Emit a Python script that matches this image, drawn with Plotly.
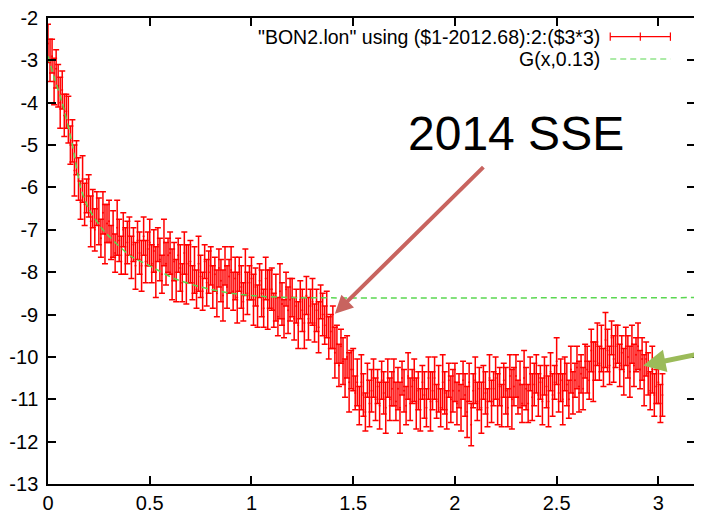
"""
Plotly recreation of the gnuplot BON2 longitude time series with the 2014 SSE marker.
"""

import plotly.graph_objects as go


"""
Data
"""

# --- Time since 2012.68 (years) ---
years = [
    0.00, 0.01, 0.02, 0.03, 0.04, 0.05, 0.06, 0.07, 0.08, 0.09,
    0.10, 0.11, 0.12, 0.13, 0.14, 0.15, 0.16, 0.17, 0.18, 0.19,
    0.20, 0.21, 0.22, 0.23, 0.24, 0.25, 0.26, 0.27, 0.28, 0.29,
    0.30, 0.31, 0.32, 0.33, 0.34, 0.35, 0.36, 0.37, 0.38, 0.39,
    0.40, 0.41, 0.42, 0.43, 0.44, 0.45, 0.46, 0.47, 0.48, 0.49,
    0.50, 0.51, 0.52, 0.53, 0.54, 0.55, 0.56, 0.57, 0.58, 0.59,
    0.60, 0.61, 0.62, 0.63, 0.64, 0.65, 0.66, 0.67, 0.68, 0.69,
    0.70, 0.71, 0.72, 0.73, 0.74, 0.75, 0.76, 0.77, 0.78, 0.79,
    0.80, 0.81, 0.82, 0.83, 0.84, 0.85, 0.86, 0.87, 0.88, 0.89,
    0.90, 0.91, 0.92, 0.93, 0.94, 0.95, 0.96, 0.97, 0.98, 0.99,
    1.00, 1.01, 1.02, 1.03, 1.04, 1.05, 1.06, 1.07, 1.08, 1.09,
    1.10, 1.11, 1.12, 1.13, 1.14, 1.15, 1.16, 1.17, 1.18, 1.19,
    1.20, 1.21, 1.22, 1.23, 1.24, 1.25, 1.26, 1.27, 1.28, 1.29,
    1.30, 1.31, 1.32, 1.33, 1.34, 1.35, 1.36, 1.37, 1.38, 1.39,
    1.40, 1.41, 1.42, 1.43, 1.44, 1.45, 1.46, 1.47, 1.48, 1.49,
    1.50, 1.51, 1.52, 1.53, 1.54, 1.55, 1.56, 1.57, 1.58, 1.59,
    1.60, 1.61, 1.62, 1.63, 1.64, 1.65, 1.66, 1.67, 1.68, 1.69,
    1.70, 1.71, 1.72, 1.73, 1.74, 1.75, 1.76, 1.77, 1.78, 1.79,
    1.80, 1.81, 1.82, 1.83, 1.84, 1.85, 1.86, 1.87, 1.88, 1.89,
    1.90, 1.91, 1.92, 1.93, 1.94, 1.95, 1.96, 1.97, 1.98, 1.99,
    2.00, 2.01, 2.02, 2.03, 2.04, 2.05, 2.06, 2.07, 2.08, 2.09,
    2.10, 2.11, 2.12, 2.13, 2.14, 2.15, 2.16, 2.17, 2.18, 2.19,
    2.20, 2.21, 2.22, 2.23, 2.24, 2.25, 2.26, 2.27, 2.28, 2.29,
    2.30, 2.31, 2.32, 2.33, 2.34, 2.35, 2.36, 2.37, 2.38, 2.39,
    2.40, 2.41, 2.42, 2.43, 2.44, 2.45, 2.46, 2.47, 2.48, 2.49,
    2.50, 2.51, 2.52, 2.53, 2.54, 2.55, 2.56, 2.57, 2.58, 2.59,
    2.60, 2.61, 2.62, 2.63, 2.64, 2.65, 2.66, 2.67, 2.68, 2.69,
    2.70, 2.71, 2.72, 2.73, 2.74, 2.75, 2.76, 2.77, 2.78, 2.79,
    2.80, 2.81, 2.82, 2.83, 2.84, 2.85, 2.86, 2.87, 2.88, 2.89,
    2.90, 2.91, 2.92, 2.93, 2.94, 2.95, 2.96, 2.97, 2.98, 2.99,
    3.00, 3.01, 3.02,
]

# --- Longitude displacement ---
lon = [
    -2.6, -3.0, -2.9, -3.5, -3.2, -3.6, -4.0, -3.7, -4.3, -4.2,
    -4.4, -5.0, -4.9, -5.6, -5.3, -5.8, -6.3, -5.8, -6.4, -6.2,
    -6.2, -6.8, -6.5, -7.0, -6.5, -6.8, -7.2, -6.6, -7.1, -6.85,
    -6.8, -7.3, -7.1, -7.55, -6.95, -7.25, -7.6, -7.0, -7.5, -7.3,
    -7.15, -7.65, -7.35, -7.85, -7.25, -7.55, -7.85, -7.15, -7.75, -7.45,
    -7.3, -7.8, -7.5, -8.0, -7.35, -7.7, -8.05, -7.3, -7.8, -7.6,
    -7.55, -8.05, -7.75, -8.2, -7.6, -7.9, -8.25, -7.55, -8.05, -7.8,
    -7.75, -8.25, -7.95, -8.4, -7.8, -8.1, -8.45, -7.75, -8.25, -8.0,
    -7.85, -8.35, -8.05, -8.5, -7.9, -8.2, -8.55, -7.85, -8.35, -8.1,
    -7.95, -8.45, -8.15, -8.6, -8.05, -8.35, -8.7, -8.0, -8.5, -8.25,
    -8.15, -8.65, -8.35, -8.8, -8.2, -8.5, -8.85, -8.15, -8.65, -8.4,
    -8.4, -8.9, -8.6, -9.05, -8.45, -8.75, -9.1, -8.4, -8.9, -8.65,
    -8.6, -9.1, -8.8, -9.25, -8.65, -8.9, -9.2, -8.55, -9.1, -8.8,
    -8.7, -9.2, -8.9, -9.3, -8.7, -9.0, -9.25, -9.0, -9.55, -9.4,
    -9.3, -9.9, -9.7, -10.2, -9.75, -10.1, -10.5, -10.0, -10.6, -10.3,
    -10.3, -10.85, -10.6, -11.15, -10.6, -10.9, -11.3, -10.55, -11.1, -10.8,
    -10.5, -11.0, -10.7, -11.15, -10.55, -10.85, -11.2, -10.5, -11.0, -10.75,
    -10.6, -11.05, -10.75, -11.2, -10.5, -10.8, -11.15, -10.45, -11.0, -10.7,
    -10.55, -11.1, -10.8, -11.25, -10.6, -10.9, -11.2, -10.5, -11.05, -10.8,
    -10.5, -11.05, -10.75, -11.2, -10.6, -10.85, -11.25, -10.55, -11.0, -10.8,
    -10.6, -11.1, -10.8, -11.2, -10.55, -10.9, -11.3, -10.6, -11.6, -10.8,
    -10.55, -11.05, -10.75, -11.2, -10.6, -10.85, -11.2, -10.5, -11.05, -10.75,
    -10.5, -11.0, -10.7, -11.15, -10.55, -10.8, -11.2, -10.45, -11.0, -10.7,
    -10.45, -10.95, -10.65, -11.1, -10.5, -10.75, -11.1, -10.4, -10.95, -10.65,
    -10.4, -10.9, -10.6, -11.05, -10.45, -10.7, -11.05, -10.35, -10.9, -10.6,
    -10.1, -10.85, -10.55, -11.0, -10.4, -10.65, -11.0, -10.3, -10.85, -10.55,
    -10.25, -10.7, -10.4, -10.75, -10.1, -10.3, -10.55, -9.85, -10.35, -10.1,
    -9.7, -10.15, -9.8, -10.25, -9.6, -9.85, -10.2, -9.55, -10.05, -9.75,
    -9.7, -10.2, -9.9, -10.35, -9.75, -10.0, -10.35, -9.7, -10.2, -9.95,
    -9.75, -10.3, -10.05, -10.55, -10.05, -10.4, -10.8, -10.3, -10.9, -10.7,
    -10.6, -11.1, -10.9,
]

# --- Error bar half widths ($3*3) ---
lon_error = [
    0.45, 0.50, 0.40, 0.55, 0.45, 0.50, 0.60, 0.45, 0.50, 0.40,
    0.55, 0.45, 0.50, 0.60, 0.40, 0.50, 0.45, 0.55, 0.50, 0.40,
    0.50, 0.60, 0.45, 0.50, 0.40, 0.55, 0.45, 0.50, 0.70, 0.45,
    0.50, 0.40, 0.55, 0.45, 0.65, 0.50, 0.45, 0.40, 0.55, 0.50,
    0.45, 0.50, 0.40, 0.55, 0.45, 0.50, 0.60, 0.45, 0.50, 0.40,
    0.55, 0.45, 0.50, 0.60, 0.40, 0.50, 0.45, 0.55, 0.50, 0.40,
    0.50, 0.60, 0.45, 0.50, 0.40, 0.55, 0.45, 0.50, 0.70, 0.45,
    0.50, 0.40, 0.55, 0.45, 0.65, 0.50, 0.45, 0.40, 0.55, 0.50,
    0.45, 0.50, 0.40, 0.55, 0.45, 0.50, 0.60, 0.45, 0.50, 0.40,
    0.55, 0.45, 0.50, 0.60, 0.40, 0.50, 0.45, 0.55, 0.50, 0.40,
    0.50, 0.60, 0.45, 0.50, 0.40, 0.55, 0.45, 0.50, 0.70, 0.45,
    0.50, 0.40, 0.55, 0.45, 0.65, 0.50, 0.45, 0.40, 0.55, 0.50,
    0.45, 0.50, 0.40, 0.55, 0.45, 0.50, 0.60, 0.45, 0.50, 0.40,
    0.55, 0.45, 0.50, 0.60, 0.40, 0.50, 0.45, 0.55, 0.50, 0.40,
    0.50, 0.60, 0.45, 0.50, 0.40, 0.55, 0.45, 0.50, 0.70, 0.45,
    0.50, 0.40, 0.55, 0.45, 0.65, 0.50, 0.45, 0.40, 0.55, 0.50,
    0.45, 0.50, 0.40, 0.55, 0.45, 0.50, 0.60, 0.45, 0.50, 0.40,
    0.55, 0.45, 0.50, 0.60, 0.40, 0.50, 0.45, 0.55, 0.50, 0.40,
    0.50, 0.60, 0.45, 0.50, 0.40, 0.55, 0.45, 0.50, 0.70, 0.45,
    0.50, 0.40, 0.55, 0.45, 0.65, 0.50, 0.45, 0.40, 0.55, 0.50,
    0.45, 0.50, 0.40, 0.55, 0.45, 0.50, 0.60, 0.45, 0.50, 0.40,
    0.55, 0.45, 0.50, 0.60, 0.40, 0.50, 0.45, 0.55, 0.50, 0.40,
    0.50, 0.60, 0.45, 0.50, 0.40, 0.55, 0.45, 0.50, 0.70, 0.45,
    0.50, 0.40, 0.55, 0.45, 0.65, 0.50, 0.45, 0.40, 0.55, 0.50,
    0.45, 0.50, 0.40, 0.55, 0.45, 0.50, 0.60, 0.45, 0.50, 0.40,
    0.55, 0.45, 0.50, 0.60, 0.40, 0.50, 0.45, 0.55, 0.50, 0.40,
    0.50, 0.60, 0.45, 0.50, 0.40, 0.55, 0.45, 0.50, 0.70, 0.45,
    0.50, 0.40, 0.55, 0.45, 0.65, 0.50, 0.45, 0.40, 0.55, 0.50,
    0.45, 0.50, 0.40, 0.55, 0.45, 0.50, 0.60, 0.45, 0.50, 0.40,
    0.55, 0.45, 0.50, 0.60, 0.40, 0.50, 0.45, 0.55, 0.50, 0.40,
    0.50, 0.45, 0.50,
]

# --- Fitted curve G(x, 0.13) ---
fit_x = [0.00, 0.03, 0.07, 0.12, 0.16, 0.20, 0.27, 0.40, 0.50, 0.62, 0.75, 0.90, 1.05, 1.20, 3.20]
fit_y = [-2.9, -3.4, -4.0, -5.0, -6.0, -6.5, -7.0, -7.6, -7.85, -8.15, -8.35, -8.5, -8.57, -8.6, -8.6]

# --- Axis ticks ---
x_ticks = [0, 0.5, 1, 1.5, 2, 2.5, 3]
x_tick_labels = ["0", "0.5", "1", "1.5", "2", "2.5", "3"]
y_ticks = [-2, -3, -4, -5, -6, -7, -8, -9, -10, -11, -12, -13]
y_tick_labels = ["-2", "-3", "-4", "-5", "-6", "-7", "-8", "-9", "-10", "-11", "-12", "-13"]

data_label = '"BON2.lon" using ($1-2012.68):2:($3*3)'
fit_label = "G(x,0.13)"


"""
Figure
"""

FONT = "Liberation Sans, Arial, Helvetica, sans-serif"
RED = "rgb(255,0,0)"
GREEN = "rgb(90,215,80)"


def add_legend_entry(figure, label, y_paper, color, dash = None, caps = False):
    """
    Gnuplot style key entry: right aligned text with the sample to its right.
    """

    figure.add_annotation(
        x = 0.855, y = y_paper, xref = "paper", yref = "paper",
        text = label, showarrow = False, xanchor = "right", yanchor = "middle",
        borderpad = 0,
        font = {"family": FONT, "size": 19.5, "color": "black"},
    )
    figure.add_shape(
        type = "line", xref = "paper", yref = "paper",
        x0 = 0.869, x1 = 0.962, y0 = y_paper, y1 = y_paper,
        line = {"color": color, "width": 1.2, "dash": dash or "solid"},
    )
    if caps:
        for x_paper in [0.869, 0.9155, 0.962]:
            figure.add_shape(
                type = "line", xref = "paper", yref = "paper",
                x0 = x_paper, x1 = x_paper, y0 = y_paper - 0.009, y1 = y_paper + 0.009,
                line = {"color": color, "width": 1.2},
            )


figure = go.Figure()
figure.add_trace(
    go.Scatter(
        x = years,
        y = lon,
        mode = "markers",
        marker = {"color": RED, "size": 2},
        error_y = {"type": "data", "array": lon_error, "color": RED, "thickness": 1.5, "width": 3},
        name = data_label,
        showlegend = False,
    )
)
figure.add_trace(
    go.Scatter(
        x = fit_x,
        y = fit_y,
        mode = "lines",
        line = {"color": GREEN, "width": 1.5, "dash": "6px,4px", "shape": "spline", "smoothing": 0.6},
        name = fit_label,
        showlegend = False,
    )
)

add_legend_entry(figure, data_label, 0.960, RED, caps = True)
add_legend_entry(figure, fit_label, 0.912, GREEN, dash = "6px,4px")

# --- Slide annotations ---
figure.add_annotation(
    x = 2.30, y = -4.72, text = "2014 SSE", showarrow = False,
    font = {"family": FONT, "size": 48, "color": "black"},
)
figure.add_annotation(
    x = 1.41, y = -8.98, ax = 150, ay = -148, text = "",
    showarrow = True, arrowhead = 2, arrowsize = 0.9, arrowwidth = 4, arrowcolor = "rgb(200,100,95)",
)
figure.add_annotation(
    x = 2.925, y = -10.2, ax = 60, ay = -12, text = "",
    showarrow = True, arrowhead = 2, arrowsize = 0.9, arrowwidth = 5, arrowcolor = "rgb(155,187,89)",
)

axis_style = dict(
    showline = True, linecolor = "black", linewidth = 1.5, mirror = "allticks",
    ticks = "inside", ticklen = 8, tickwidth = 1.5, tickcolor = "black",
    showgrid = False, zeroline = False, automargin = False,
    ticklabeloverflow = "allow",
    tickfont = {"family": FONT, "size": 20, "color": "black"},
)
figure.update_xaxes(range = [0, 3.18], tickvals = x_ticks, ticktext = x_tick_labels, **axis_style)
figure.update_yaxes(range = [-13, -2], tickvals = y_ticks, ticktext = y_tick_labels, ticklabelstandoff = 4, **axis_style)

# The page body adds an 8px margin, so the figure is 8px smaller than the window.
figure.update_layout(
    width = 694,
    height = 510,
    margin = {"l": 40, "r": 7, "t": 10, "b": 34},
    plot_bgcolor = "white",
    paper_bgcolor = "white",
)

figure.write_html("out.html")
